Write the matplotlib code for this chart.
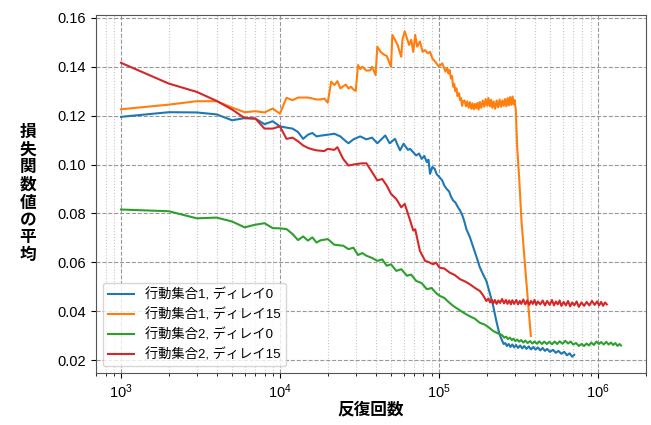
import matplotlib
matplotlib.use('Agg')
import matplotlib.pyplot as plt

plt.rcParams['font.family'] = ['Liberation Sans', 'Noto Sans CJK JP']
plt.rcParams['mathtext.fontset'] = 'custom'
plt.rcParams['mathtext.rm'] = 'Liberation Sans'
plt.rcParams['mathtext.it'] = 'Liberation Sans:italic'

# 反復回数 (千回単位) と損失関数値の平均
k_blue = [1, 2, 3, 4, 5, 6, 7, 8, 9, 10, 11, 12, 13, 14, 15, 16, 17, 18, 20, 22,
          24, 26, 27, 29, 32, 35, 38, 41, 43, 46, 49, 53, 55, 57, 60, 61, 64, 66, 69, 72,
          75, 78, 81, 84, 86, 88, 91, 94, 97, 101, 105, 108, 112, 116, 119, 123, 127, 132, 136, 141,
          145, 149, 157, 165, 173, 181, 190, 199, 210, 220, 230, 241,
          250, 256, 262, 268, 275, 282, 290, 298, 306, 315, 325, 335, 345, 356, 368, 380, 393, 406, 420, 435,
          450, 465, 480, 500, 523, 545, 565, 590, 615, 640, 665, 690, 711]
y_blue = [0.1195, 0.1214, 0.1213, 0.1205, 0.1181, 0.1190, 0.1188, 0.1165, 0.1177, 0.1156, 0.1151, 0.1147, 0.1133, 0.1105, 0.1122, 0.1129, 0.1115, 0.1118, 0.1122, 0.1126,
          0.1115, 0.1095, 0.1087, 0.1103, 0.1115, 0.1103, 0.1110, 0.1087, 0.1100, 0.1119, 0.1087, 0.1105, 0.1080, 0.1058, 0.1085, 0.1078, 0.1060, 0.1064, 0.1050, 0.1037,
          0.1045, 0.1023, 0.1035, 0.1010, 0.1020, 0.0962, 0.0990, 0.0983, 0.0960, 0.0948, 0.0935, 0.0915, 0.0900, 0.0890, 0.0870, 0.0853, 0.0845, 0.0825, 0.0812, 0.0790,
          0.0765, 0.0736, 0.0702, 0.0660, 0.0620, 0.0580, 0.0550, 0.0524, 0.0470, 0.0420, 0.0360, 0.0305,
          0.0280, 0.0266, 0.0270, 0.0258, 0.0266, 0.0254, 0.0264, 0.0252, 0.0262, 0.0250, 0.0260, 0.0248, 0.0258, 0.0246, 0.0256, 0.0244, 0.0254, 0.0243, 0.0252, 0.0240,
          0.0250, 0.0238, 0.0246, 0.0234, 0.0242, 0.0230, 0.0238, 0.0226, 0.0234, 0.0220, 0.0228, 0.0214, 0.0222]

k_orange = [1, 2, 3, 4, 5, 6, 7, 8, 9, 10, 11, 12, 13, 14, 15, 16, 17, 18, 19, 20,
            21, 22, 23, 24, 25, 26, 27, 28, 29, 30, 31, 32, 33, 35, 37, 38, 40, 41, 43, 45,
            47, 49, 50, 51, 53, 55, 57, 58, 59, 61, 63, 65, 67, 69, 71, 73, 76, 79, 82, 85,
            88, 91, 95, 100, 105, 110, 113, 115, 117, 119, 121, 123, 125, 127, 129, 131, 134, 136, 138, 140, 142,
            145, 148, 151, 154, 157, 160, 163, 166, 169, 172, 175, 178, 181, 185, 189, 193, 197, 201, 205, 209,
            213, 217, 221, 226, 231, 236, 241, 246, 251, 256, 261, 266, 271, 276, 281, 286, 291, 296, 300,
            305, 311, 320, 331, 352, 379]
y_orange = [0.1226, 0.1245, 0.1259, 0.1259, 0.1233, 0.1214, 0.1218, 0.1213, 0.1229, 0.1208, 0.1273, 0.1263, 0.1274, 0.1274, 0.1274, 0.1270, 0.1266, 0.1266, 0.1270, 0.1253,
            0.1339, 0.1325, 0.1341, 0.1311, 0.1320, 0.1327, 0.1311, 0.1318, 0.1307, 0.1301, 0.1407, 0.1390, 0.1400, 0.1384, 0.1385, 0.1400, 0.1366, 0.1482, 0.1461, 0.1450,
            0.1444, 0.1414, 0.1400, 0.1530, 0.1510, 0.1489, 0.1455, 0.1441, 0.1510, 0.1545, 0.1516, 0.1489, 0.1510, 0.1461, 0.1530, 0.1482, 0.1503, 0.1461, 0.1468, 0.1455,
            0.1461, 0.1434, 0.1420, 0.1400, 0.1414, 0.1380, 0.1395, 0.1372, 0.1386, 0.1352, 0.1362, 0.1318, 0.1330, 0.1300, 0.1312, 0.1280, 0.1292, 0.1263, 0.1272, 0.1240, 0.1258,
            0.1262, 0.1238, 0.1258, 0.1232, 0.1255, 0.1228, 0.1250, 0.1226, 0.1248, 0.1230, 0.1252, 0.1225, 0.1256, 0.1232, 0.1262, 0.1236, 0.1268, 0.1240, 0.1272, 0.1238,
            0.1265, 0.1232, 0.1258, 0.1228, 0.1262, 0.1234, 0.1266, 0.1236, 0.1262, 0.1240, 0.1268, 0.1238, 0.1272, 0.1242, 0.1276, 0.1244, 0.1278, 0.1246, 0.1263,
            0.1222, 0.1072, 0.0948, 0.0770, 0.0553, 0.0299]

k_green = [1, 2, 3, 4, 5, 6, 7, 8, 9, 10, 11, 12, 13, 14, 15, 16, 17, 18, 20, 22,
           25, 27, 29, 31, 33, 35, 38, 41, 44, 47, 50, 54, 58, 63, 67, 72, 78, 84, 90, 96,
           101, 108, 115, 123, 131, 140, 149, 158, 168, 181, 195, 208, 220, 235,
           250, 258, 265, 272, 280, 288, 295, 303, 311, 320, 330, 340, 350, 362, 375, 388, 400, 415, 428, 445,
           460, 478, 496, 515, 535, 555, 575, 600, 625, 650, 675, 700, 730, 760, 790, 820, 850, 880, 910, 945,
           980, 1015, 1050, 1090, 1130, 1170, 1210, 1250, 1290, 1330, 1370, 1400]
y_green = [0.0816, 0.0809, 0.0780, 0.0783, 0.0767, 0.0743, 0.0754, 0.0760, 0.0740, 0.0739, 0.0736, 0.0716, 0.0691, 0.0706, 0.0689, 0.0702, 0.0681, 0.0690, 0.0695, 0.0672,
           0.0668, 0.0654, 0.0660, 0.0630, 0.0638, 0.0627, 0.0618, 0.0606, 0.0612, 0.0586, 0.0592, 0.0565, 0.0572, 0.0545, 0.0550, 0.0524, 0.0515, 0.0490, 0.0495, 0.0475,
           0.0463, 0.0455, 0.0438, 0.0422, 0.0410, 0.0398, 0.0387, 0.0378, 0.0370, 0.0353, 0.0345, 0.0332, 0.0319, 0.0310,
           0.0302, 0.0292, 0.0296, 0.0286, 0.0292, 0.0282, 0.0288, 0.0278, 0.0284, 0.0276, 0.0282, 0.0272, 0.0280, 0.0270, 0.0278, 0.0268, 0.0276, 0.0267, 0.0277, 0.0266,
           0.0276, 0.0266, 0.0275, 0.0265, 0.0276, 0.0266, 0.0277, 0.0267, 0.0279, 0.0268, 0.0276, 0.0264, 0.0270, 0.0258, 0.0266, 0.0258, 0.0268, 0.0260, 0.0272, 0.0262,
           0.0276, 0.0266, 0.0274, 0.0264, 0.0275, 0.0264, 0.0272, 0.0262, 0.0270, 0.0258, 0.0266, 0.0260]

k_red = [1, 2, 3, 4, 5, 6, 7, 8, 9, 10, 11, 12, 13, 14, 15, 16, 17, 19, 20, 22,
         23, 25, 27, 29, 31, 33, 35, 38, 41, 44, 47, 50, 54, 58, 61, 66, 69, 71, 76, 82,
         87, 92, 96, 101, 108, 117, 126, 136, 146, 157, 169, 181, 190,
         199, 205, 210, 215, 220, 225, 231, 237, 243, 250, 257, 264, 270, 277, 284, 290, 298, 307, 315, 323,
         330, 340, 350, 360, 370, 380, 390, 400, 410, 420, 435, 450, 465, 480, 498, 515, 530, 545, 560, 575,
         590, 610, 630, 650, 670, 690, 712, 736, 760, 790, 820, 850, 885, 920, 955, 990, 1020, 1050, 1080, 1110, 1140]
y_red = [0.1416, 0.1331, 0.1297, 0.1260, 0.1225, 0.1190, 0.1188, 0.1147, 0.1147, 0.1156, 0.1105, 0.1110, 0.1095, 0.1078, 0.1068, 0.1062, 0.1058, 0.1055, 0.1064, 0.1060,
         0.1071, 0.1023, 0.0996, 0.1000, 0.1003, 0.1005, 0.1005, 0.0969, 0.0935, 0.0941, 0.0914, 0.0880, 0.0859, 0.0825, 0.0839, 0.0771, 0.0730, 0.0735, 0.0647, 0.0606,
         0.0600, 0.0592, 0.0599, 0.0578, 0.0575, 0.0558, 0.0548, 0.0531, 0.0522, 0.0510, 0.0495, 0.0483, 0.0465,
         0.0442, 0.0452, 0.0436, 0.0448, 0.0432, 0.0446, 0.0430, 0.0444, 0.0434, 0.0450, 0.0432, 0.0446, 0.0430, 0.0444, 0.0428, 0.0445, 0.0430, 0.0446, 0.0428, 0.0442,
         0.0430, 0.0448, 0.0428, 0.0444, 0.0426, 0.0442, 0.0430, 0.0446, 0.0426, 0.0440, 0.0428, 0.0444, 0.0424, 0.0442, 0.0426, 0.0446, 0.0424, 0.0440, 0.0428, 0.0444,
         0.0422, 0.0438, 0.0424, 0.0442, 0.0420, 0.0436, 0.0424, 0.0440, 0.0418, 0.0436, 0.0422, 0.0438, 0.0424, 0.0442, 0.0426, 0.0440, 0.0424, 0.0438, 0.0422, 0.0436, 0.0428]

series = [
    (k_blue, y_blue, '#1f77b4', '行動集合1, ディレイ0'),
    (k_orange, y_orange, '#ff7f0e', '行動集合1, ディレイ15'),
    (k_green, y_green, '#2ca02c', '行動集合2, ディレイ0'),
    (k_red, y_red, '#d62728', '行動集合2, ディレイ15'),
]

fig = plt.figure(figsize=(6.51, 4.25), dpi=100)
ax = fig.add_axes([96 / 651, 52 / 425, 550 / 651, 358 / 425])

for k, y, c, label in series:
    ax.plot([v * 1000 for v in k], y, color=c, lw=1.5, label=label)

ax.set_xscale('log')
ax.set_yticks([0.02, 0.04, 0.06, 0.08, 0.10, 0.12, 0.14, 0.16])
ax.tick_params(labelsize=10.5)

ax.grid(True, which='major', ls='--', color='#999999', lw=0.8)
ax.grid(True, which='minor', axis='x', ls=':', color='#c8c8c8', lw=0.8)
for s in ax.spines.values():
    s.set_color('#555555')

fig.text(371 / 651, 1 - 410 / 425, '反復回数', fontsize=12, fontweight='bold',
         ha='center', va='center')
ax.set_ylabel('\n'.join('損失関数値の平均'), fontsize=12, fontweight='bold',
              rotation=0, va='center', ha='center', linespacing=1.2)
ax.yaxis.set_label_coords(-0.124, 0.5)

ax.legend(loc='lower left', fontsize=9.5, framealpha=0.8)

fig.savefig('out.png', dpi=100)
